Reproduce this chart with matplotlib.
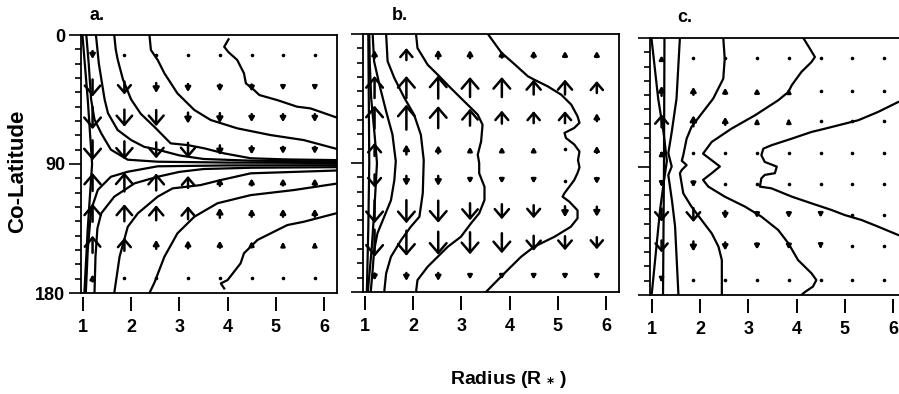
import matplotlib.pyplot as plt

plt.rcParams['font.family'] = ['Liberation Sans', 'DejaVu Sans']
plt.rcParams['font.weight'] = 'bold'

# flow grid: radius (R*) and co-latitude (deg)
grid_r = [1.2, 1.86, 2.52, 3.18, 3.84, 4.5, 5.15, 5.81]
grid_theta = [14, 37, 58, 80.5, 102.5, 124, 146, 169.5]

# meridional flow, positive towards larger co-latitude (arbitrary units)
flow_a = [
    [8, 2, 2, 2, 2, 2, 2, 2],
    [17, 13, 10, 8, 7, 7, 5, 5],
    [22, 17, 16, 11, 10, 8, 8, 8],
    [20, 18, 16, 15, 10, 8, 7, 7],
    [-18, -19, -17, -12, -8, -7, -7, -7],
    [-18, -17, -15, -13, -10, -8, -8, -8],
    [-17, -13, -9, -8, -7, -6, -4, -4],
    [-7, -3, -2, -2, -2, -2, -2, -2],
]
flow_b = [
    [-8, -12, -9, -8, -7, -7, -6, -6],
    [-22, -22, -23, -20, -20, -15, -15, -12],
    [-23, -25, -22, -17, -13, -12, -12, -8],
    [-13, -10, -8, -5, -5, -5, -2, -7],
    [13, 10, 10, 5, 5, 5, 2, 6],
    [23, 23, 22, 17, 15, 13, 11, 10],
    [27, 25, 23, 22, 20, 15, 14, 12],
    [7, 8, 8, 5, 5, 5, 5, 5],
]
flow_c = [
    [-5, -2, -2, -2, -2, -2, -2, -2],
    [-10, -8, -6, -5, -4, -2, -2, -2],
    [-13, -11, -8, -4, -4, -3, -2, -2],
    [-4, -2, -2, -2, -2, -2, -2, -2],
    [4, 6, 2, 2, 2, 2, 2, 2],
    [13, 14, 8, 6, 6, 5, 2, 2],
    [12, 10, 8, 6, 6, 4, 2, 2],
    [4, 2, 2, 2, 2, 2, 2, 2],
]

# field lines, (radius, co-latitude) pairs
lines_a = [
    [(0.99, 0), (1.1, 45), (1.19, 90), (1.1, 135), (1.03, 180)],
    [(1.07, 0), (1.12, 20), (1.17, 45), (1.24, 59), (1.38, 68.6), (1.58, 80), (1.93, 87),
     (2.55, 88.4), (4.0, 89), (6.3, 89.3)],
    [(1.27, 0), (1.33, 20), (1.45, 45), (1.52, 54.6), (1.72, 66.3), (2.0, 73.3), (2.27, 78),
     (2.55, 80), (3.0, 84), (3.5, 86.5), (4.5, 87.7), (6.3, 88.3)],
    [(1.65, 0), (1.68, 10), (1.72, 17), (1.83, 31), (2.0, 45), (2.2, 55), (2.48, 64),
     (2.82, 75.6), (3.17, 76.8), (3.51, 79), (3.93, 82.6), (4.48, 86), (5.2, 86.8), (6.3, 87.3)],
    [(2.38, 0), (2.41, 10.5), (2.55, 17.4), (2.69, 26.7), (2.96, 40.7), (3.31, 52.3),
     (3.65, 59.3), (4.2, 65.1), (4.89, 69.8), (5.58, 73.3), (6.3, 79.8)],
    [(4.02, 3), (3.93, 8.2), (4.02, 12), (4.2, 17.4), (4.34, 26.7), (4.38, 33.7), (4.55, 38.4),
     (4.66, 41.9), (5.03, 45.4), (5.44, 50), (5.72, 51.2), (6.3, 58)],
    [(6.3, 90.8), (4.0, 91), (2.55, 91.6), (1.93, 95.4), (1.58, 98.9), (1.31, 108),
     (1.17, 122), (1.1, 150), (1.06, 180)],
    [(6.3, 92.2), (4.5, 92.6), (3.5, 93.5), (3.0, 95.5), (2.55, 98.9), (2.07, 103.5),
     (1.65, 112.8), (1.38, 124.4), (1.3, 135), (1.26, 155), (1.24, 180)],
    [(6.3, 94.5), (4.48, 96.5), (3.86, 101.2), (3.44, 104.7), (3.17, 105.8), (2.86, 107),
     (2.55, 112.8), (2.14, 124.4), (1.93, 133.8), (1.76, 154.7), (1.65, 180)],
    [(6.3, 103.5), (5.37, 108.2), (4.48, 111.7), (3.79, 117.4), (3.31, 126.8), (2.96, 138.4),
     (2.69, 154.7), (2.48, 173), (2.38, 180)],
    [(6.3, 124), (5.58, 130.3), (5.24, 132.6), (4.75, 140.8), (4.62, 143), (4.34, 152.3),
     (4.27, 159.3), (4.0, 171), (3.86, 173.3), (3.93, 176.8)],
]
lines_b = [
    [(1.07, 0), (1.08, 45), (1.09, 90), (1.07, 135), (1.04, 180)],
    [(1.09, 0), (1.1, 20), (1.13, 45), (1.2, 70), (1.25, 90), (1.2, 120), (1.14, 150), (1.06, 180)],
    [(1.16, 0), (1.19, 19), (1.3, 35.3), (1.44, 54), (1.57, 70), (1.64, 88.8), (1.61, 102),
     (1.54, 116), (1.4, 127.5), (1.26, 139), (1.19, 151), (1.16, 165), (1.12, 180)],
    [(1.44, 0), (1.47, 19), (1.61, 30.7), (1.82, 44.7), (2.02, 56.3), (2.16, 70.3), (2.22, 88),
     (2.2, 111), (2.13, 127.5), (1.95, 134.5), (1.75, 143.8), (1.54, 155.4), (1.44, 167), (1.4, 180)],
    [(2.06, 0), (2.09, 9.8), (2.3, 21.4), (2.51, 28.4), (2.78, 37.7), (3.06, 47), (3.2, 51.6),
     (3.34, 56.3), (3.44, 63.3), (3.41, 74.9), (3.34, 84.2), (3.37, 90), (3.37, 97.2),
     (3.48, 106.6), (3.48, 115.8), (3.37, 125.1), (3.2, 132.1), (2.99, 141.5), (2.72, 148.4),
     (2.51, 155.4), (2.3, 162.4), (2.09, 171.7), (2.06, 180)],
    [(3.55, 0), (3.83, 13), (4.1, 21), (4.38, 29.5), (4.52, 32), (4.79, 36.5), (5.07, 42.3),
     (5.28, 49.3), (5.41, 57.4), (5.45, 62), (5.34, 65.6), (5.14, 69), (5.17, 72.6), (5.34, 77),
     (5.45, 82), (5.42, 88), (5.45, 93), (5.41, 97), (5.34, 102), (5.14, 111), (5.1, 113.5),
     (5.24, 117), (5.41, 123), (5.41, 128.6), (5.27, 134.5), (4.93, 141.5), (4.51, 148.4),
     (4.24, 155.4), (3.89, 167), (3.51, 180)],
]
lines_c = [
    [(0.99, 0), (1.13, 42.5), (1.24, 66), (1.31, 86), (1.25, 100), (1.17, 120), (1.0, 178), (0.99, 180)],
    [(1.26, 0), (1.25, 90), (1.23, 180)],
    [(1.58, 0), (1.51, 42.5), (1.41, 66), (1.34, 80.7), (1.41, 90), (1.34, 96), (1.42, 115),
     (1.48, 132), (1.55, 180)],
    [(2.48, 0), (2.51, 14.5), (2.48, 28.5), (2.27, 42.5), (2.03, 53), (1.82, 62.3), (1.72, 70.5),
     (1.65, 82.1), (1.62, 86), (1.72, 89), (1.62, 92.4), (1.58, 94.7), (1.65, 108.8), (1.82, 118.1),
     (2.03, 127.5), (2.24, 136.8), (2.38, 146.1), (2.45, 155.5), (2.45, 180)],
    [(4.14, 0), (4.25, 6), (4.38, 13.3), (4.31, 16.8), (4.1, 23.8), (3.9, 33.1), (3.83, 37.8),
     (3.62, 43.6), (3.14, 54.1), (2.65, 63.5), (2.24, 72.8), (2.06, 81), (2.41, 90), (2.24, 94.7),
     (2.06, 99.4), (2.17, 104.1), (2.51, 111.1), (2.93, 118.1), (3.27, 125.1), (3.62, 134.5),
     (3.83, 143.8), (4.03, 155.5), (4.31, 164.8), (4.41, 169.5), (4.34, 174.1), (4.17, 178), (4.1, 180)],
    [(6.3, 43.5), (6.11, 44.8), (5.69, 51.8), (5.28, 57.6), (5.0, 60), (4.59, 63.5), (4.31, 65.8),
     (3.9, 70.5), (3.48, 75.1), (3.31, 77.5), (3.27, 82.1), (3.34, 86.8), (3.41, 87.7), (3.59, 90.1),
     (3.55, 94.7), (3.34, 95.9), (3.27, 98.3), (3.24, 104.1), (3.48, 105.3), (3.9, 111.1),
     (4.31, 115.8), (4.72, 120.4), (5.0, 124), (5.35, 127.5), (5.69, 132.1), (6.11, 138), (6.3, 139.5)],
]

panel_names = ['a.', 'b.', 'c.']
radius_ticks = [1, 2, 3, 4, 5, 6]
colat_ticks = [0, 90, 180]


def draw_flow(ax, flow):
    for i, th in enumerate(grid_theta):
        for j, r in enumerate(grid_r):
            v = flow[i][j]
            if abs(v) <= 3:
                ax.plot(r, th, 'o', ms=2.6, color='k', mec='none')
                continue
            d = 0.7 * v
            if abs(v) >= 12:
                style = '->,head_length=0.7,head_width=0.6'
                m = min(10.0, 0.4 * abs(v) + 2.5)
            else:
                # short arrows: small solid head on a visible shaft
                style = '-|>,head_length=0.6,head_width=0.35'
                m = 0.3 * abs(v) + 2.0
            ax.annotate('', xy=(r, th + d / 2), xytext=(r, th - d / 2),
                        arrowprops=dict(arrowstyle=style, lw=1.8, color='k',
                                        shrinkA=0, shrinkB=0, mutation_scale=m))


def draw_lines(ax, lines):
    for ln in lines:
        r = [p[0] for p in ln]
        th = [p[1] for p in ln]
        ax.plot(r, th, color='k', lw=1.6, solid_joinstyle='round')


fig = plt.figure(figsize=(8.99, 3.94), dpi=100)
W, H = 899.0, 394.0
# left, top, bottom of each frame in pixels
frames = [(81, 35, 293), (363, 34, 292), (650, 38, 295)]
flows = [flow_a, flow_b, flow_c]
lines_all = [lines_a, lines_b, lines_c]
label_pos = [(97, 16), (400, 16), (685, 18)]

for k in range(3):
    left, top, bot = frames[k]
    ax = fig.add_axes([left / W, 1 - bot / H, 256 / W, (bot - top) / H])
    ax.set_xlim(0.96, 6.27)
    ax.set_ylim(180, 0)
    draw_lines(ax, lines_all[k])
    draw_flow(ax, flows[k])

    for s in ['left', 'top', 'right']:
        ax.spines[s].set_linewidth(1.3)
    ax.spines['bottom'].set_position(('outward', 3))
    ax.spines['bottom'].set_visible(False)
    ax.plot([0, 1], [0, 0], transform=ax.transAxes, color='k', lw=1.3, clip_on=False)

    ax.set_xticks(radius_ticks)
    ax.tick_params(axis='x', direction='out', length=10, width=1.4, pad=6, labelsize=13)
    ax.set_yticks(colat_ticks)
    ax.set_yticks(range(10, 180, 10), minor=True)
    ax.tick_params(axis='y', which='major', direction='out', length=8.5, width=1.2, pad=3, labelsize=13)
    ax.tick_params(axis='y', which='minor', direction='out', length=4, width=1.2)
    if k == 0:
        ax.set_yticklabels([str(t) for t in colat_ticks])
    else:
        ax.set_yticklabels([])

    fig.text(label_pos[k][0] / W, 1 - label_pos[k][1] / H, panel_names[k],
             fontsize=13, fontweight='bold', ha='center', va='center')

fig.text(18 / W, 1 - 171 / H, 'Co-Latitude', rotation=90, fontsize=16,
         fontweight='bold', ha='center', va='center')
fig.text(509 / W, 1 - 380 / H, r'Radius (R $_{*}$ )', fontsize=14,
         fontweight='bold', ha='center', va='center')

fig.savefig('out.png', dpi=100)
